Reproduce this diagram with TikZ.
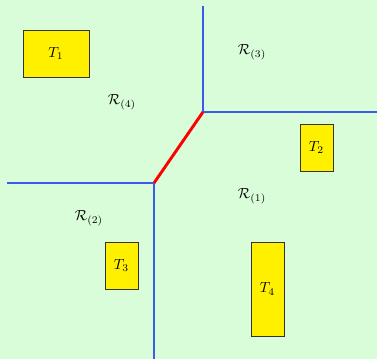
\documentclass[tikz,border=0pt]{standalone}
\usepackage{amsmath,amssymb}
\usepackage{tikz}
\usetikzlibrary{positioning}
\definecolor{bggreen}{RGB}{216,253,216}
\definecolor{cellblue}{RGB}{60,90,240}
\definecolor{boxyellow}{RGB}{255,240,0}
\tikzstyle{target} = [rectangle, draw=black!80, fill=boxyellow, minimum width=0.79cm,
    minimum height=1.13cm, inner sep=0pt]
\tikzstyle{edge} = [cellblue, line width=0.7pt]
\tikzstyle{shared} = [red, line width=2pt]
\tikzstyle{region} = [inner sep=0pt]

\begin{document}
\begin{tikzpicture}[x=0.024cm, y=-0.024cm]
  \fill[bggreen] (0,0) rectangle (377,359);
  \useasboundingbox (0,0) rectangle (377,359);

  \coordinate (top)   at (203,6);
  \coordinate (right) at (377,112);
  \coordinate (up)    at (203,112);
  \coordinate (low)   at (154,183);
  \coordinate (left)  at (7,183);
  \coordinate (bot)   at (154,359);

  \node (t1) [target, minimum width=1.58cm] at (56,53.5) {$T_1$};
  \node (t2) [target] at (316.5,147.5) {$T_2$};
  \node (t3) [target] at (121.5,265.5) {$T_3$};
  \node (t4) [target, minimum height=2.26cm] at (267.5,289) {$T_4$};

  \node (r3) [region] at (252,52)  {$\mathcal{R}_{(3)}$};
  \node (r4) [region] at (122,102) {$\mathcal{R}_{(4)}$};
  \node (r1) [region] at (252,196) {$\mathcal{R}_{(1)}$};
  \node (r2) [region] at (89,218)  {$\mathcal{R}_{(2)}$};

  \draw[edge] (top) -- (up) -- (right);
  \draw[edge] (left) -- (low) -- (bot);
  \draw[shared] (up) -- (low);
\end{tikzpicture}
\end{document}
